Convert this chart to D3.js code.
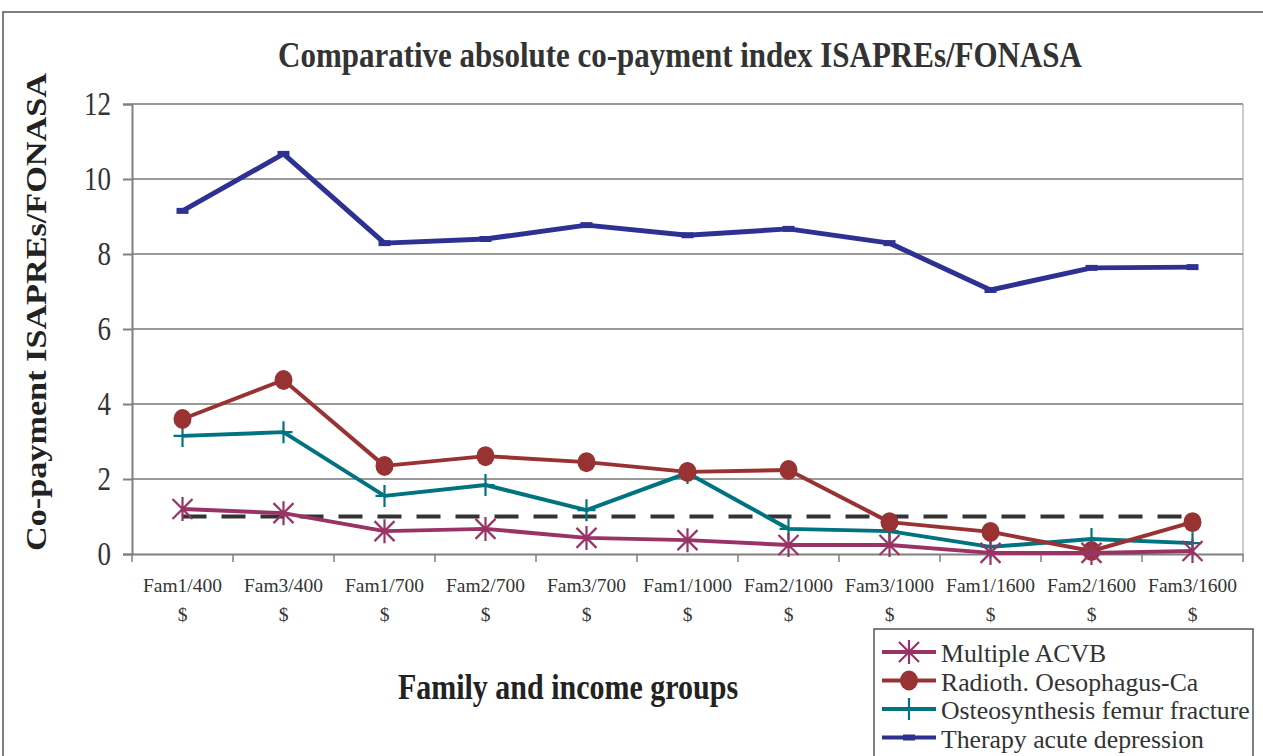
<!DOCTYPE html>
<html><head><meta charset="utf-8">
<script src="https://cdn.jsdelivr.net/npm/d3@7"></script>
<style>body{margin:0;background:#fff}svg{display:block}</style>
</head><body>
<svg id="c" width="1263" height="756"></svg>
<script>
const categories = ["Fam1/400", "Fam3/400", "Fam1/700", "Fam2/700", "Fam3/700", "Fam1/1000", "Fam2/1000", "Fam3/1000", "Fam1/1600", "Fam2/1600", "Fam3/1600"];
const multipleACVB = [1.2, 1.09, 0.61, 0.67, 0.43, 0.37, 0.24, 0.24, 0.03, 0.03, 0.08];
const radiothOesophagus = [3.6, 4.64, 2.35, 2.61, 2.45, 2.19, 2.24, 0.85, 0.59, 0.08, 0.85];
const osteosynthesis = [3.15, 3.25, 1.55, 1.84, 1.17, 2.16, 0.67, 0.61, 0.19, 0.4, 0.29];
const therapyDepression = [9.15, 10.67, 8.29, 8.4, 8.77, 8.5, 8.67, 8.29, 7.04, 7.63, 7.65];
const referenceLine = 1;
const yTicks = [0, 2, 4, 6, 8, 10, 12];
const seriesNames = ["Multiple ACVB", "Radioth. Oesophagus-Ca", "Osteosynthesis femur fracture", "Therapy acute depression"];

const series = [
  {name: seriesNames[0], values: multipleACVB, color: "#993366", marker: "star"},
  {name: seriesNames[1], values: radiothOesophagus, color: "#993333", marker: "circle"},
  {name: seriesNames[2], values: osteosynthesis, color: "#007380", marker: "plus"},
  {name: seriesNames[3], values: therapyDepression, color: "#2E3192", marker: "dash"}
];

const svg = d3.select("#c");
const serif = "'Liberation Serif','Times New Roman',serif";
const L = 132, R = 1243, T = 104, B = 554;
const SY = 1.18;

// outer frame
svg.append("path").attr("d", "M3,756 L3,12 L1263,12").attr("fill", "none").attr("stroke", "#555").attr("stroke-width", 1.5);

const x = d3.scaleBand().domain(categories).range([L, R]);
const y = d3.scaleLinear().domain([0, 12]).range([B, T]);

// grid
svg.append("g").selectAll("line").data(yTicks.filter(d => d > 0)).join("line")
  .attr("x1", L).attr("x2", R).attr("y1", d => y(d)).attr("y2", d => y(d))
  .attr("stroke", "#999").attr("stroke-width", 2);
svg.append("line").attr("x1", R).attr("x2", R).attr("y1", T).attr("y2", B).attr("stroke", "#999").attr("stroke-width", 1);

// y axis
const ya = svg.append("g").attr("transform", `translate(${L},0)`)
  .call(d3.axisLeft(y).tickValues(yTicks).tickSize(9).tickPadding(12).tickFormat(d3.format("d")));
ya.select(".domain").attr("stroke", "#808080").attr("stroke-width", 2);
ya.selectAll(".tick line").attr("stroke", "#808080").attr("stroke-width", 2);
ya.selectAll("text").attr("font-family", serif).attr("font-size", 27).attr("fill", "#333")
  .attr("transform", `scale(1,${SY + 0.04})`);

// x axis
const xa = svg.append("g").attr("transform", `translate(0,${B})`)
  .call(d3.axisBottom(x).tickSize(0).tickFormat(""));
xa.select(".domain").attr("stroke", "#808080").attr("stroke-width", 2);
svg.append("g").selectAll("line").data(categories.concat(["end"])).join("line")
  .attr("x1", (d, i) => L + i * x.step()).attr("x2", (d, i) => L + i * x.step())
  .attr("y1", B).attr("y2", B + 8).attr("stroke", "#808080").attr("stroke-width", 1.5);
const xl = svg.append("g");
categories.forEach(c => {
  const t = xl.append("text").attr("text-anchor", "middle")
    .attr("font-family", serif).attr("font-size", 19.5).attr("fill", "#333");
  t.append("tspan").attr("x", x(c) + x.bandwidth() / 2).attr("y", 592).text(c);
  t.append("tspan").attr("x", x(c) + x.bandwidth() / 2).attr("y", 621).text("$");
});

// reference line
svg.append("line")
  .attr("x1", x(categories[0]) + x.bandwidth() / 2).attr("x2", x(categories[categories.length - 1]) + x.bandwidth() / 2)
  .attr("y1", y(referenceLine)).attr("y2", y(referenceLine))
  .attr("stroke", "#333333").attr("stroke-width", 4).attr("stroke-dasharray", "24,15");

const cx = (d, i) => x(categories[i]) + x.bandwidth() / 2;
const line = d3.line().x(cx).y(d => y(d));

function drawMarker(g, type, color, px, py) {
  if (type === "circle") {
    g.append("ellipse").attr("cx", px).attr("cy", py).attr("rx", 9).attr("ry", 10).attr("fill", color);
  } else if (type === "plus") {
    g.append("path").attr("d", `M${px - 9},${py}H${px + 9}M${px},${py - 11}V${py + 11}`).attr("stroke", color).attr("stroke-width", 2.2);
  } else if (type === "star") {
    const r = 10;
    g.append("path").attr("d", `M${px - r},${py - r}L${px + r},${py + r}M${px - r},${py + r}L${px + r},${py - r}M${px},${py - r * 1.2}V${py + r * 1.2}`)
      .attr("stroke", color).attr("stroke-width", 2.2);
  } else if (type === "dash") {
    g.append("path").attr("d", `M${px - 6},${py}H${px + 6}`).attr("stroke", color).attr("stroke-width", 6);
  }
}

[series[3], series[2], series[1], series[0]].forEach(s => {
  const g = svg.append("g");
  g.append("path").datum(s.values).attr("d", line).attr("fill", "none")
    .attr("stroke", s.color).attr("stroke-width", s.marker === "dash" ? 5 : 4).attr("stroke-linejoin", "round");
  s.values.forEach((v, i) => drawMarker(g, s.marker, s.color, cx(v, i), y(v)));
});

// title
svg.append("g").attr("transform", `translate(680,67) scale(1,${SY})`)
  .append("text").attr("text-anchor", "middle")
  .attr("font-family", serif).attr("font-weight", "bold").attr("font-size", 31).attr("fill", "#333")
  .text("Comparative absolute co-payment index ISAPREs/FONASA");

// y title
svg.append("g").attr("transform", `translate(46,312) rotate(-90) scale(${SY},1)`)
  .append("text").attr("text-anchor", "middle")
  .attr("font-family", serif).attr("font-weight", "bold").attr("font-size", 29).attr("fill", "#222")
  .text("Co-payment ISAPREs/FONASA");

// x title
svg.append("g").attr("transform", `translate(568,699) scale(1,${SY})`)
  .append("text").attr("text-anchor", "middle")
  .attr("font-family", serif).attr("font-weight", "bold").attr("font-size", 30).attr("fill", "#222")
  .text("Family and income groups");

// legend
const lg = svg.append("g");
lg.append("rect").attr("x", 874).attr("y", 629).attr("width", 379).attr("height", 140)
  .attr("fill", "#fff").attr("stroke", "#555").attr("stroke-width", 1.5);
series.forEach((s, i) => {
  const base = 662 + i * 28.5;
  const ly = base - 10;
  lg.append("line").attr("x1", 882).attr("x2", 936).attr("y1", ly).attr("y2", ly)
    .attr("stroke", s.color).attr("stroke-width", 4);
  drawMarker(lg, s.marker, s.color, 909, ly);
  lg.append("g").attr("transform", `translate(941,${base}) scale(1.03,1)`)
    .append("text").attr("font-family", serif).attr("font-size", 25)
    .attr("fill", "#333").text(s.name);
});
</script>
</body></html>
